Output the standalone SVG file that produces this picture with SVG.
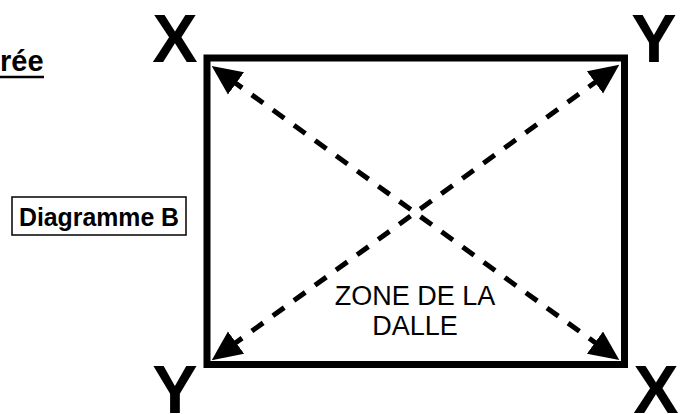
<svg xmlns="http://www.w3.org/2000/svg" width="684" height="414" viewBox="0 0 684 414">
<style>
.big{font-family:"Liberation Sans",Arial,sans-serif;font-weight:bold;font-size:68px;fill:#000;text-anchor:middle}
.lbl{font-family:"Liberation Sans",Arial,sans-serif;font-weight:bold;fill:#000}
.zone{font-family:"Liberation Sans",Arial,sans-serif;font-size:27px;fill:#000;text-anchor:middle}
.dash{stroke:#000;stroke-width:5;fill:none;stroke-dasharray:14 12;stroke-dashoffset:4}
</style>
<defs>
<marker id="ah" markerUnits="userSpaceOnUse" markerWidth="30" markerHeight="30" viewBox="0 0 24 24" refX="2" refY="12" orient="auto-start-reverse">
<path d="M0,1 L24,12 L0,23 Z" fill="#000"/>
</marker>
</defs>
<g id="title">
<text class="lbl" x="0" y="71" font-size="29">rée</text>
<line x1="0" y1="77" x2="44" y2="77" stroke="#000" stroke-width="2.5"/>
</g>
<g id="diagramme-b">
<rect x="12" y="197" width="174" height="38" fill="#fff" stroke="#000" stroke-width="1.5"/>
<text class="lbl" x="99" y="226" font-size="25" text-anchor="middle" textLength="160" lengthAdjust="spacingAndGlyphs">Diagramme B</text>
</g>
<g id="slab">
<rect x="207" y="58" width="417.5" height="306.5" fill="none" stroke="#000" stroke-width="7"/>
<text class="zone" x="415" y="305">ZONE DE LA</text>
<text class="zone" x="415" y="335">DALLE</text>
</g>
<g id="corner-labels">
<text class="big" x="175" y="62">X</text>
<text class="big" x="654" y="62">Y</text>
<text class="big" x="175" y="413">Y</text>
<text class="big" x="656" y="413">X</text>
</g>
<g id="connectors">
<line class="dash" x1="234" y1="82" x2="597" y2="344" marker-start="url(#ah)" marker-end="url(#ah)"/>
<line class="dash" x1="234" y1="344" x2="597" y2="81" marker-start="url(#ah)" marker-end="url(#ah)"/>
</g>
</svg>
